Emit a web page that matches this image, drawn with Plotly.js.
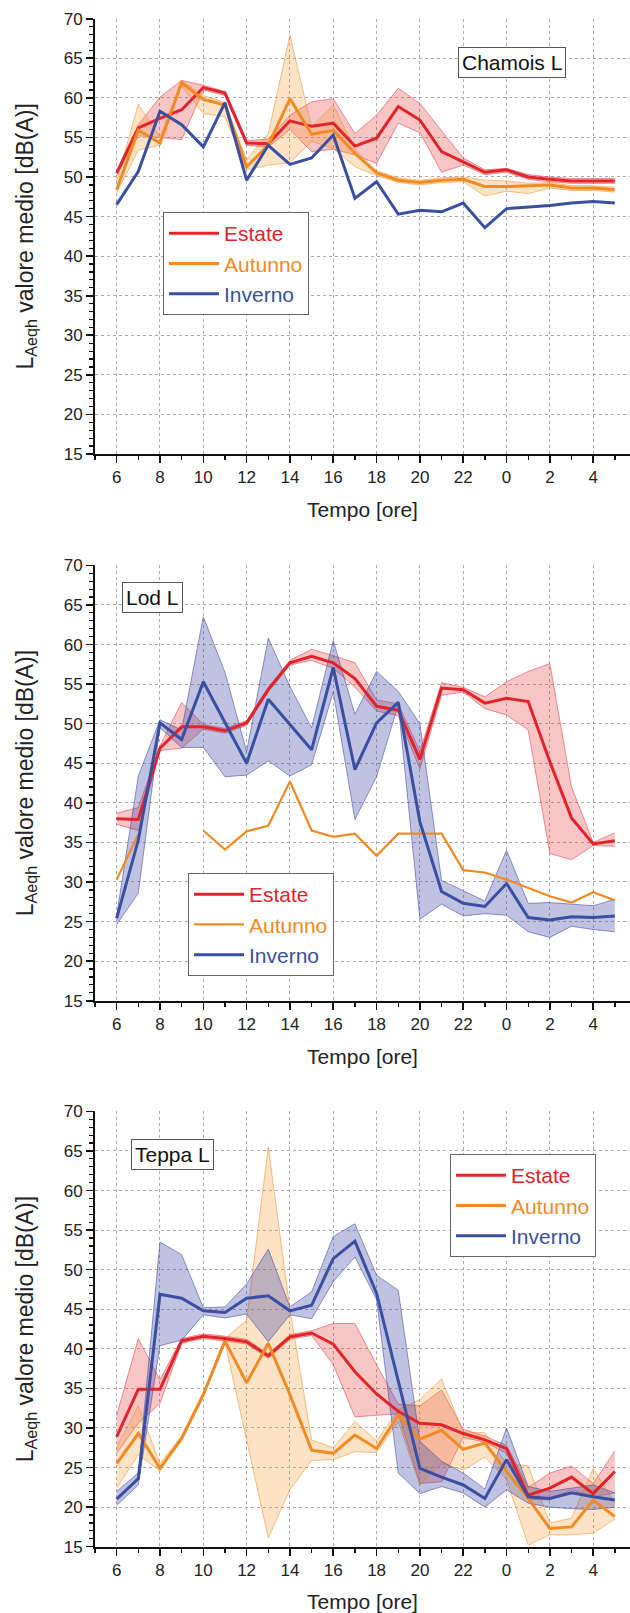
<!DOCTYPE html>
<html>
<head>
<meta charset="utf-8">
<script src="https://cdn.plot.ly/plotly-3.0.1.min.js"></script>
<style>
html,body{margin:0;padding:0;background:#fff;}
#chart{width:630px;height:1613px;}
</style>
</head>
<body>
<div id="chart"></div>
<script>
// ---------- data ----------
const hours = [6,7,8,9,10,11,12,13,14,15,16,17,18,19,20,21,22,23,24,25,26,27,28,29];
const tickVals = [6,8,10,12,14,16,18,20,22,24,26,28];
const tickText = ['6','8','10','12','14','16','18','20','22','0','2','4'];
const minorTickVals = [5,7,9,11,13,15,17,19,21,23,25,27,29];
const seriesNames = ['Estate','Autunno','Inverno'];
const stationNames = ['Chamois L','Lod L','Teppa L'];
const xTitle = 'Tempo [ore]';
const yTitle = 'L<sub>Aeqh</sub> valore medio [dB(A)]';

// Chamois L
const chamoisEstate   = [50.5,56.2,57.4,58.5,61.3,60.6,54.3,54.2,57.1,56.4,56.8,53.9,54.9,58.9,57.2,53.2,51.9,50.6,50.9,50.0,49.7,49.5,49.5,49.5];
const chamoisEstateHi = [50.8,56.6,60.1,62.2,61.6,60.8,54.6,54.8,57.8,59.5,59.9,55.5,57.8,61.2,59.3,55.8,52.4,50.9,51.1,50.3,50.0,49.8,49.8,49.8];
const chamoisEstateLo = [50.2,55.2,55.0,54.7,61.0,60.3,54.0,53.8,56.0,53.2,53.5,52.8,51.7,56.8,55.6,50.6,51.5,50.3,50.6,49.7,49.4,49.2,49.2,49.2];
const chamoisAutunno   = [48.4,55.9,54.3,61.9,59.8,59.1,51.3,54.0,59.9,55.4,55.9,53.0,50.5,49.6,49.3,49.6,49.7,48.8,48.8,48.9,49.0,48.6,48.6,48.4];
const chamoisAutunnoHi = [49.5,59.2,55.0,62.2,60.3,59.4,52.2,55.5,67.9,56.3,59.1,53.5,50.8,49.9,49.6,49.9,50.0,49.6,49.5,49.2,49.3,48.9,48.9,48.7];
const chamoisAutunnoLo = [48.0,53.4,54.0,61.5,58.0,57.6,50.9,51.5,51.8,54.5,53.6,51.3,50.2,49.3,49.0,49.3,49.4,47.6,48.2,47.9,48.6,48.3,48.3,48.1];
const chamoisInverno   = [46.5,50.7,58.3,56.6,53.8,59.4,49.6,54.0,51.6,52.4,55.3,47.3,49.4,45.3,45.8,45.6,46.7,43.6,46.0,46.2,46.4,46.7,46.9,46.7];

// Lod L
const lodEstate   = [38.0,37.9,46.9,49.6,49.6,49.1,50.1,54.3,57.7,58.5,57.7,55.7,52.2,51.7,45.5,54.5,54.3,52.6,53.2,52.8,45.2,38.1,34.8,35.2];
const lodEstateHi = [38.7,39.4,47.2,52.7,49.9,49.4,50.4,54.6,58.0,59.4,58.6,57.7,53.0,52.5,46.5,55.2,54.6,53.4,55.3,56.6,57.6,42.0,35.0,36.2];
const lodEstateLo = [37.3,36.5,46.6,46.9,49.3,48.8,49.8,54.0,57.4,58.0,57.0,54.6,51.6,51.0,44.3,53.6,54.0,51.9,51.1,49.2,33.6,32.8,34.6,34.5];
const lodAutunno  = [30.3,36.0,null,null,36.5,34.1,36.4,37.1,42.7,36.5,35.7,36.1,33.3,36.1,36.1,36.1,31.5,31.2,30.3,29.2,28.2,27.4,28.7,27.7];
const lodInverno   = [25.4,35.3,50.1,48.0,55.3,50.2,45.0,53.1,49.9,46.7,57.1,44.2,50.1,52.7,37.6,28.8,27.3,26.9,29.8,25.5,25.2,25.6,25.5,25.7];
const lodInvernoHi = [25.8,43.4,50.5,49.2,63.5,56.5,46.5,60.8,54.7,49.5,60.5,51.2,56.6,54.1,50.0,30.2,28.9,27.6,34.0,27.3,27.4,27.2,27.0,27.8];
const lodInvernoLo = [24.6,28.6,49.5,47.0,47.0,43.3,43.5,45.3,43.4,44.8,54.0,37.9,43.3,52.4,25.3,27.2,25.7,26.0,25.8,23.7,23.0,24.4,24.0,23.7];

// Teppa L
const teppaEstate   = [28.9,34.9,34.9,41.0,41.6,41.3,40.9,39.1,41.5,42.0,40.6,37.1,34.3,32.1,30.6,30.4,29.3,28.5,27.4,21.5,22.4,23.8,21.7,24.5];
const teppaEstateHi = [31.6,41.3,36.1,41.3,41.9,41.6,41.2,39.4,41.8,42.3,43.2,43.2,38.0,33.0,32.8,34.8,29.8,29.0,27.8,22.5,24.3,25.2,23.0,27.1];
const teppaEstateLo = [26.8,30.6,33.1,40.7,41.3,41.0,40.6,38.8,41.2,41.7,38.0,31.4,31.6,31.8,23.0,23.2,28.8,28.2,26.8,21.0,20.9,22.2,21.3,21.8];
const teppaAutunno   = [25.5,29.3,24.9,28.7,34.2,41.0,35.7,40.7,34.2,27.2,26.8,29.1,27.4,31.6,28.6,29.7,27.3,28.1,24.5,21.1,17.3,17.5,20.9,18.8];
const teppaAutunnoHi = [27.6,32.8,25.5,29.0,34.5,41.3,43.6,65.5,45.0,28.5,27.5,30.8,28.4,32.3,33.6,36.2,29.5,29.4,25.5,25.2,18.0,18.6,24.9,20.5];
const teppaAutunnoLo = [22.4,26.6,24.6,28.4,33.9,40.8,28.5,16.1,22.2,25.9,26.0,27.0,26.9,30.8,22.8,25.5,24.7,26.3,23.5,15.2,16.5,16.5,16.7,18.5];
const teppaInverno   = [21.0,23.6,46.9,46.4,44.8,44.6,46.4,46.7,44.8,45.5,51.4,53.6,47.0,36.0,24.9,23.8,22.8,21.1,26.0,21.3,21.1,21.8,21.3,20.9];
const teppaInvernoHi = [22.0,24.3,53.5,51.9,45.2,45.3,48.2,52.6,45.3,47.2,54.2,55.8,49.3,47.4,28.3,25.8,24.3,22.3,30.0,22.6,22.0,22.4,22.8,21.8];
const teppaInvernoLo = [20.2,22.8,40.4,41.1,44.3,43.9,44.4,40.9,44.3,43.8,48.5,51.6,46.2,24.3,21.7,22.6,21.8,20.0,22.2,20.5,20.0,19.8,19.7,20.0];

// ---------- styles ----------
const COL = {
  Estate:  {line:'#E3232A', fill:'rgba(229,45,55,0.28)', edge:'rgba(215,40,50,0.55)'},
  Autunno: {line:'#F28A24', fill:'rgba(245,155,50,0.28)', edge:'rgba(240,140,40,0.6)'},
  Inverno: {line:'#3A4FA2', fill:'rgba(60,70,165,0.33)', edge:'rgba(55,65,160,0.6)'}
};
const FONT = 'Liberation Sans, Arial, Helvetica, sans-serif';

const traces = [];
function legendId(k){ return k===1 ? 'legend' : 'legend'+k; }
function addBand(k, lo, hi, name){
  const ax = k===1 ? '' : String(k);
  traces.push({x:hours, y:lo, mode:'lines', line:{color:COL[name].edge, width:0.9},
    xaxis:'x'+ax, yaxis:'y'+ax, legend:legendId(k), showlegend:false, hoverinfo:'skip'});
  traces.push({x:hours, y:hi, mode:'lines', line:{color:COL[name].edge, width:0.9},
    fill:'tonexty', fillcolor:COL[name].fill,
    xaxis:'x'+ax, yaxis:'y'+ax, legend:legendId(k), showlegend:false, hoverinfo:'skip'});
}
function addLine(k, y, name, w){
  const ax = k===1 ? '' : String(k);
  traces.push({x:hours, y:y, mode:'lines', line:{color:COL[name].line, width:w},
    name:'<span style="color:'+COL[name].line+'">'+name+'</span>',
    xaxis:'x'+ax, yaxis:'y'+ax, legend:legendId(k), showlegend:true});
}

// panel 1
addBand(1, chamoisEstateLo, chamoisEstateHi, 'Estate');
addBand(1, chamoisAutunnoLo, chamoisAutunnoHi, 'Autunno');
addLine(1, chamoisEstate, seriesNames[0], 3);
addLine(1, chamoisAutunno, seriesNames[1], 3);
addLine(1, chamoisInverno, seriesNames[2], 3);
// panel 2
addBand(2, lodEstateLo, lodEstateHi, 'Estate');
addBand(2, lodInvernoLo, lodInvernoHi, 'Inverno');
addLine(2, lodEstate, seriesNames[0], 3);
addLine(2, lodAutunno, seriesNames[1], 2.2);
addLine(2, lodInverno, seriesNames[2], 3);
// panel 3
addBand(3, teppaEstateLo, teppaEstateHi, 'Estate');
addBand(3, teppaAutunnoLo, teppaAutunnoHi, 'Autunno');
addBand(3, teppaInvernoLo, teppaInvernoHi, 'Inverno');
addLine(3, teppaEstate, seriesNames[0], 3);
addLine(3, teppaAutunno, seriesNames[1], 3);
addLine(3, teppaInverno, seriesNames[2], 3);

// ---------- layout ----------
const H = 1613, L = 95, W = 630;
function dom(topPx, botPx){ return [1 - botPx/H, 1 - topPx/H]; }
const panels = [[18.7,454],[565.4,1000.7],[1111.4,1546.7]];

function xAxis(k){
  return {
    anchor: k===1 ? 'y' : 'y'+k,
    domain:[0,1], range:[5,29.7],
    tickmode:'array', tickvals:tickVals, ticktext:tickText,
    ticks:'outside', ticklen:7, tickwidth:1.6, tickcolor:'#111',
    showline:true, linewidth:2, linecolor:'#111',
    showgrid:true, gridcolor:'#ababab', gridwidth:1, griddash:'dot',
    zeroline:false,
    minor:{tickmode:'array', tickvals:minorTickVals, ticks:'outside', ticklen:4, tickwidth:1.4, tickcolor:'#111', showgrid:false},
    tickfont:{family:FONT, size:17, color:'#222'},
    title:{text:xTitle, font:{family:FONT, size:21, color:'#222'}, standoff:16},
    fixedrange:true
  };
}
function yAxis(k){
  return {
    anchor: k===1 ? 'x' : 'x'+k,
    domain: dom(panels[k-1][0], panels[k-1][1]),
    range:[15,70], tickmode:'linear', tick0:15, dtick:5,
    ticks:'outside', ticklen:7, tickwidth:1.6, tickcolor:'#111',
    showline:true, linewidth:2, linecolor:'#111',
    showgrid:true, gridcolor:'#ababab', gridwidth:1, griddash:'dot',
    zeroline:false,
    minor:{dtick:1, ticks:'outside', ticklen:4, tickwidth:1.2, tickcolor:'#111', showgrid:false},
    tickfont:{family:FONT, size:17, color:'#222'},
    title:{text:yTitle, font:{family:FONT, size:23, color:'#222'}, standoff:24},
    fixedrange:true
  };
}
function px2x(p){ return (p - L)/(W - L); }
function py2y(p){ return 1 - p/H; }
function legendAt(leftPx, topPx){
  return {x:px2x(leftPx), y:py2y(topPx), xanchor:'left', yanchor:'top',
    bgcolor:'#fff', bordercolor:'#666', borderwidth:1, traceorder:'normal',
    font:{family:FONT, size:21}, itemwidth:50, tracegroupgap:0};
}
function label(text, cxPx, cyPx){
  return {text:text, xref:'paper', yref:'paper', x:px2x(cxPx), y:py2y(cyPx),
    xanchor:'center', yanchor:'middle', showarrow:false,
    font:{family:FONT, size:21, color:'#111'},
    bgcolor:'#fff', bordercolor:'#555', borderwidth:1, borderpad:3};
}

const layout = {
  width:W, height:H,
  margin:{l:L, r:0, t:0, b:0},
  paper_bgcolor:'#fff', plot_bgcolor:'#fff',
  font:{family:FONT, color:'#222'},
  xaxis:xAxis(1), xaxis2:xAxis(2), xaxis3:xAxis(3),
  yaxis:yAxis(1), yaxis2:yAxis(2), yaxis3:yAxis(3),
  legend:legendAt(163,212), legend2:legendAt(188,873), legend3:legendAt(450,1154),
  annotations:[label(stationNames[0],512,62.5), label(stationNames[1],152.5,597.2), label(stationNames[2],172.2,1154)],
  showlegend:true
};

Plotly.newPlot('chart', traces, layout, {staticPlot:true, displayModeBar:false});
</script>
</body>
</html>
